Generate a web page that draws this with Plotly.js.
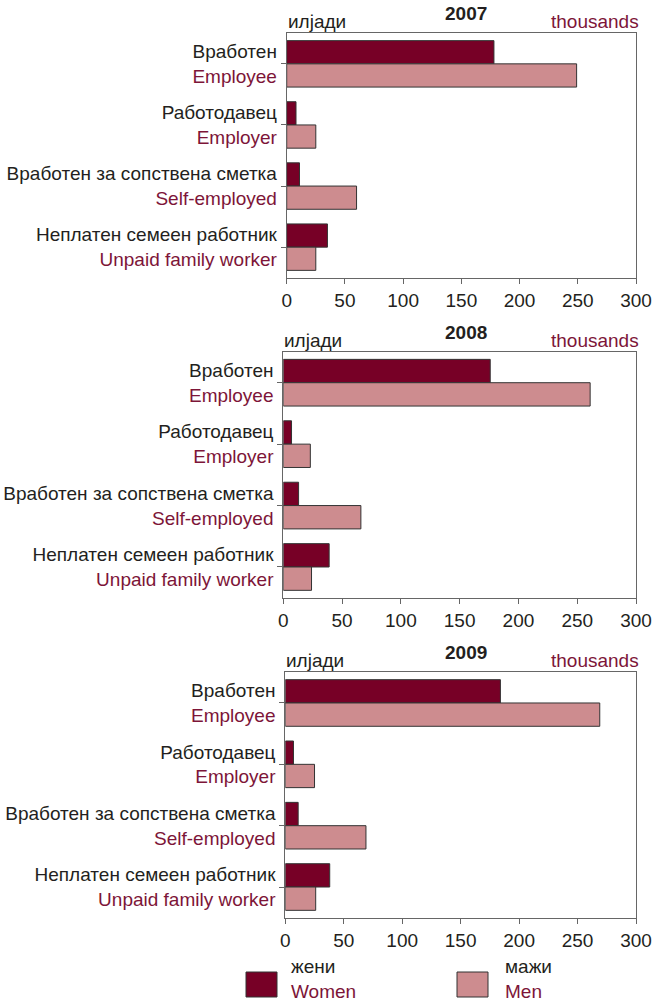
<!DOCTYPE html>
<html>
<head>
<meta charset="utf-8">
<script src="https://cdn.plot.ly/plotly-3.0.1.min.js"></script>
<style>html,body{margin:0;padding:0;background:#fff;}#chart{width:654px;height:1002px;}</style>
</head>
<body>
<div id="chart"></div>
<script>
// ---- data ----
const categoriesMk = ['Вработен', 'Работодавец', 'Вработен за сопствена сметка', 'Неплатен семеен работник'];
const categoriesEn = ['Employee', 'Employer', 'Self-employed', 'Unpaid family worker'];
const years = ['2007', '2008', '2009'];
const women2007 = [178, 8, 11, 35];
const men2007 = [249, 25, 60, 25];
const women2008 = [176, 7, 13, 39];
const men2008 = [261, 23, 66, 24];
const women2009 = [184, 7, 11, 38];
const men2009 = [269, 25, 69, 26];
const seriesMk = ['жени', 'мажи'];
const seriesEn = ['Women', 'Men'];
const xTicks = [0, 50, 100, 150, 200, 250, 300];

// ---- style ----
const W = 654, H = 1002;
const WOMEN = '#770026', MEN = '#cd8c8f', RED = '#7d1538', INK = '#231f20';
const FONT = 'Liberation Sans, Arial, sans-serif';
const FS = 19;
const px = x => x / W;
const py = y => 1 - y / H;

const panels = [
  {women: women2007, men: men2007, x0: 286.7, x1: 636, top: 33.3, bottom: 277.7},
  {women: women2008, men: men2008, x0: 283.3, x1: 636, top: 352, bottom: 597.7},
  {women: women2009, men: men2009, x0: 285.3, x1: 636, top: 672.3, bottom: 917.7}
];

const tickText = categoriesMk.map((c, i) => c + '<br><span style="color:' + RED + '">' + categoriesEn[i] + '</span>');

const data = [];
const layout = {
  width: W, height: H,
  margin: {l: 0, r: 0, t: 0, b: 0},
  paper_bgcolor: '#fff', plot_bgcolor: '#fff',
  font: {family: FONT, size: FS, color: INK},
  showlegend: false,
  barmode: 'group',
  bargap: 0.24,
  bargroupgap: 0,
  annotations: [],
  shapes: []
};

panels.forEach((p, k) => {
  const s = k === 0 ? '' : String(k + 1);
  const xa = 'x' + s, ya = 'y' + s;
  data.push({
    type: 'bar', orientation: 'h', name: seriesEn[0],
    x: p.women, y: categoriesMk, xaxis: xa, yaxis: ya,
    marker: {color: WOMEN, line: {color: '#333', width: 1}},
    hoverinfo: 'x'
  });
  data.push({
    type: 'bar', orientation: 'h', name: seriesEn[1],
    x: p.men, y: categoriesMk, xaxis: xa, yaxis: ya,
    marker: {color: MEN, line: {color: '#333', width: 1}},
    hoverinfo: 'x'
  });
  layout['xaxis' + s] = {
    domain: [px(p.x0), px(p.x1)], anchor: ya,
    range: [0, 300], tickvals: xTicks, ticktext: xTicks.map(String),
    showgrid: false, zeroline: false,
    showline: true, linecolor: '#666', linewidth: 1, mirror: true,
    ticks: 'outside', ticklen: 5, tickcolor: '#666',
    tickfont: {family: FONT, size: FS, color: INK}, fixedrange: true
  };
  layout['yaxis' + s] = {
    domain: [py(p.bottom), py(p.top)], anchor: xa,
    type: 'category', categoryorder: 'array', categoryarray: categoriesMk,
    range: [3.5, -0.5],
    tickvals: categoriesMk, ticktext: tickText,
    showgrid: false, zeroline: false,
    showline: true, linecolor: '#666', linewidth: 1, mirror: true,
    ticks: 'outside', ticklen: 5, tickcolor: '#666',
    tickfont: {family: FONT, size: FS, color: INK}, fixedrange: true
  };
  layout.annotations.push({
    xref: 'paper', yref: 'paper', x: px(466), y: py(p.top - 20),
    xanchor: 'center', yanchor: 'middle', showarrow: false,
    text: '<b>' + years[k] + '</b>', font: {family: FONT, size: FS, color: INK}
  });
  layout.annotations.push({
    xref: 'paper', yref: 'paper', x: px(p.x0 - 1), y: py(p.top - 12),
    xanchor: 'left', yanchor: 'middle', showarrow: false,
    text: 'илјади', font: {family: FONT, size: FS, color: INK}
  });
  layout.annotations.push({
    xref: 'paper', yref: 'paper', x: px(641), y: py(p.top - 12),
    xanchor: 'right', yanchor: 'middle', showarrow: false,
    text: 'thousands', font: {family: FONT, size: FS, color: RED}
  });
});

// legend (drawn manually)
const legendItems = [
  {bx: 246, color: WOMEN, tx: 289},
  {bx: 457, color: MEN, tx: 503}
];
legendItems.forEach((it, i) => {
  layout.shapes.push({
    type: 'rect', xref: 'paper', yref: 'paper',
    x0: px(it.bx), x1: px(it.bx + 31), y0: py(997), y1: py(972),
    fillcolor: it.color, line: {color: '#333', width: 1}
  });
  layout.annotations.push({
    xref: 'paper', yref: 'paper', x: px(it.tx), y: py(978.5),
    xanchor: 'left', yanchor: 'middle', align: 'left', showarrow: false,
    text: seriesMk[i] + '<br><span style="color:' + RED + '">' + seriesEn[i] + '</span>',
    font: {family: FONT, size: FS, color: INK}
  });
});

Plotly.newPlot('chart', data, layout, {displayModeBar: false, staticPlot: true});
</script>
</body>
</html>
